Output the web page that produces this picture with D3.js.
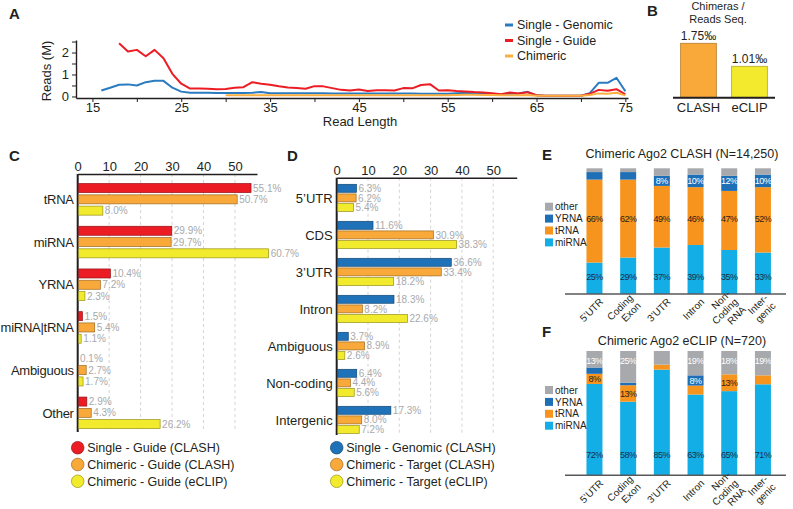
<!DOCTYPE html>
<html><head><meta charset="utf-8">
<script src="https://cdn.jsdelivr.net/npm/d3@7"></script>
<style>
body{margin:0;background:#fff}
svg{display:block;font-family:"Liberation Sans",Arial,sans-serif}
</style>
</head><body>
<svg id="c" width="793" height="509"></svg>
<script>
// ---------------- DATA ----------------
// Panel A: reads (M) by read length
const readLengths = [16,17,18,19,20,21,22,23,24,25,26,27,28,29,30,31,32,33,34,35,36,37,38,39,40,41,42,43,44,45,46,47,48,49,50,51,52,53,54,55,56,57,58,59,60,61,62,63,64,65,66,67,68,69,70,71,72,73,74,75];
const singleGenomic = [0.27,0.40,0.53,0.55,0.50,0.65,0.72,0.71,0.40,0.22,0.17,0.17,0.17,0.16,0.16,0.16,0.16,0.17,0.20,0.15,0.15,0.15,0.15,0.15,0.15,0.15,0.14,0.14,0.14,0.14,0.13,0.13,0.13,0.13,0.13,0.13,0.12,0.12,0.12,0.12,0.15,0.17,0.15,0.12,0.10,0.08,0.12,0.14,0.21,0.05,0.03,0.03,0.03,0.03,0.03,0.15,0.62,0.62,0.85,0.24];
const singleGuide = [null,null,2.42,2.05,2.12,1.83,2.12,1.74,1.03,0.58,0.36,0.36,0.35,0.33,0.34,0.40,0.42,0.65,0.58,0.53,0.46,0.41,0.38,0.35,0.47,0.46,0.38,0.30,0.27,0.32,0.25,0.28,0.28,0.27,0.38,0.37,0.52,0.56,0.27,0.28,0.25,0.23,0.20,0.18,0.15,0.10,0.18,0.14,0.19,0.06,0.03,0.03,0.03,0.03,0.03,0.12,0.30,0.26,0.33,0.10];
const chimeric = [null,null,null,null,null,null,null,null,null,null,null,null,null,null,0.05,0.05,0.05,0.05,0.05,0.05,0.05,0.05,0.05,0.05,0.05,0.05,0.05,0.05,0.05,0.05,0.05,0.05,0.05,0.05,0.05,0.05,0.05,0.05,0.05,0.05,0.07,0.08,0.08,0.07,0.07,0.06,0.06,0.06,0.07,0.03,0.03,0.03,0.03,0.03,0.03,0.07,0.14,0.12,0.17,0.05];
const seriesA = ["Single - Genomic","Single - Guide","Chimeric"];
const xTicksA = [15,20,25,30,35,40,45,50,55,60,65,70,75];

// Panel B
const libsB = ["CLASH","eCLIP"];
const chimeraRatio = [1.75,1.01];

// Panel C
const catsC = ["tRNA","miRNA","YRNA","miRNA|tRNA","Ambiguous","Other"];
const singleGuideCLASH = [55.1,29.9,10.4,1.5,0.1,2.9];
const chimericGuideCLASH = [50.7,29.7,7.2,5.4,2.7,4.3];
const chimericGuideECLIP = [8.0,60.7,2.3,1.1,1.7,26.2];
const seriesC = ["Single - Guide (CLASH)","Chimeric - Guide (CLASH)","Chimeric - Guide (eCLIP)"];

// Panel D
const catsD = ["5\u2019UTR","CDS","3\u2019UTR","Intron","Ambiguous","Non-coding","Intergenic"];
const singleGenomicCLASH = [6.3,11.6,36.6,18.3,3.7,6.4,17.3];
const chimericTargetCLASH = [6.2,30.9,33.4,8.2,8.9,4.4,8.0];
const chimericTargetECLIP = [5.4,38.3,18.2,22.6,2.6,5.6,7.2];
const seriesD = ["Single - Genomic (CLASH)","Chimeric - Target (CLASH)","Chimeric - Target (eCLIP)"];
const barTicks = [0,10,20,30,40,50];

// Panels E / F
const regions = ["5\u2019UTR","Coding Exon","3\u2019UTR","Intron","Non-Coding RNA","Inter-genic"];
const regionLines = [["5\u2019UTR"],["Coding","Exon"],["3\u2019UTR"],["Intron"],["Non-","Coding","RNA"],["Inter-","genic"]];
const guideTypes = ["miRNA","tRNA","YRNA","other"];
const clashMiRNA = [25,29,37,39,35,33];
const clashTRNA  = [66,62,49,46,47,52];
const clashYRNA  = [6,6,8,10,12,10];
const clashOther = [3,3,6,5,6,5];
const eclipMiRNA = [72,58,85,63,65,71];
const eclipTRNA  = [8,13,4,7,13,7];
const eclipYRNA  = [5,2,0,8,0,0];
const eclipOther = [13,25,11,19,18,19];
// which segment values are printed
const clashShow = {miRNA:[1,1,1,1,1,1], tRNA:[1,1,1,1,1,1], YRNA:[0,0,1,1,1,1], other:[0,0,0,0,0,0]};
const eclipShow = {miRNA:[1,1,1,1,1,1], tRNA:[1,1,0,0,1,0], YRNA:[0,0,0,1,0,0], other:[1,1,0,1,1,1]};

// ---------------- DRAW ----------------
const svg = d3.select("#c");
const TXT = "#231f20";

function letter(t,x,y){ svg.append("text").attr("x",x).attr("y",y).attr("font-size",15).attr("font-weight","bold").attr("fill",TXT).text(t); }
letter("A",9,18.5); letter("B",647,15.5); letter("C",9,160.5); letter("D",287,160.5); letter("E",542,160); letter("F",542,337);

// ===== Panel A =====
const colA = ["#2a7bc0","#ec1c24","#fbb040"];
const xA = d3.scaleLinear().domain([13.15,75.3]).range([76,628]);
const yA = d3.scaleLinear().domain([-0.07,2.57]).range([98,40]);
const gA = svg.append("g");
const axY = gA.append("g").attr("transform","translate(76,0)")
  .call(d3.axisLeft(yA).tickValues([0,0.5,1,1.5,2,2.5]).tickFormat(d=>Number.isInteger(d)?d:"").tickSize(4).tickPadding(3).tickSizeOuter(0));
const axX = gA.append("g").attr("transform","translate(0,98)")
  .call(d3.axisBottom(xA).tickValues(xTicksA).tickFormat(d=>(d-15)%10===0?d:"").tickSize(4).tickPadding(1).tickSizeOuter(0));
[axY,axX].forEach(a=>{
  a.selectAll("path.domain").attr("stroke","#231f20").attr("stroke-width",1.4);
  a.selectAll("line").attr("stroke","#231f20");
  a.selectAll("text").attr("font-size",13).attr("fill",TXT).attr("font-family",'"Liberation Sans",Arial,sans-serif');
});
[singleGenomic,singleGuide,chimeric].forEach((vals,k)=>{
  const line = d3.line().defined(d=>d[1]!==null).x(d=>xA(d[0])).y(d=>yA(d[1]));
  gA.append("path").datum(readLengths.map((L,i)=>[L,vals[i]]))
    .attr("d",line).attr("fill","none").attr("stroke",colA[k]).attr("stroke-width",2).attr("stroke-linejoin","round");
});
gA.append("text").attr("transform","translate(51,71) rotate(-90)").attr("text-anchor","middle").attr("font-size",13).attr("fill",TXT).text("Reads (M)");
gA.append("text").attr("x",360).attr("y",126).attr("text-anchor","middle").attr("font-size",13).attr("fill",TXT).text("Read Length");
seriesA.forEach((s,k)=>{
  const y = 25 + k*15.5;
  gA.append("line").attr("x1",505).attr("x2",513).attr("y1",y).attr("y2",y).attr("stroke",colA[k]).attr("stroke-width",3);
  gA.append("text").attr("x",517).attr("y",y).attr("dy","0.35em").attr("font-size",12.5).attr("fill",TXT).text(s);
});

// ===== Panel B =====
const colB = ["#f9a93a","#f3ea2e"];
const xB = d3.scaleBand().domain(libsB).range([673,775]).paddingInner(0.3).paddingOuter(0.15);
const yB = d3.scaleLinear().domain([0,1.75]).range([97.7,43.3]);
const gB = svg.append("g");
gB.selectAll("rect").data(libsB).join("rect")
  .attr("x",d=>xB(d)).attr("width",xB.bandwidth())
  .attr("y",(d,i)=>yB(chimeraRatio[i])).attr("height",(d,i)=>yB(0)-yB(chimeraRatio[i]))
  .attr("fill",(d,i)=>colB[i]).attr("stroke",(d,i)=>d3.color(colB[i]).darker(0.9)).attr("stroke-width",0.8);
gB.append("line").attr("x1",673).attr("x2",775).attr("y1",97.7).attr("y2",97.7).attr("stroke","#231f20").attr("stroke-width",2);
gB.selectAll("text.v").data(libsB).join("text").attr("class","v")
  .attr("x",d=>xB(d)+xB.bandwidth()/2).attr("y",(d,i)=>yB(chimeraRatio[i])-3)
  .attr("text-anchor","middle").attr("font-size",12).attr("fill",TXT).text((d,i)=>d3.format(".2f")(chimeraRatio[i])+"\u2030");
gB.selectAll("text.c").data(libsB).join("text").attr("class","c")
  .attr("x",d=>xB(d)+xB.bandwidth()/2).attr("y",112)
  .attr("text-anchor","middle").attr("font-size",13).attr("fill",TXT).text(d=>d);
gB.append("text").attr("x",718).attr("y",10).attr("text-anchor","middle").attr("font-size",11).attr("fill",TXT).text("Chimeras /");
gB.append("text").attr("x",718).attr("y",22.5).attr("text-anchor","middle").attr("font-size",11).attr("fill",TXT).text("Reads Seq.");

// ===== Horizontal grouped bars (C, D) =====
function hbars(opt){
  const g = svg.append("g");
  const x = d3.scaleLinear().domain([0,opt.xmax]).range([opt.x0,opt.x1]);
  const y = d3.scaleBand().domain(opt.cats).range(opt.yr).paddingInner(opt.pi).paddingOuter(0.13);
  const ys = d3.scaleBand().domain([0,1,2]).range([0,y.bandwidth()]).paddingInner(opt.spi);
  // grid
  g.selectAll("line.grid").data(barTicks.slice(1)).join("line").attr("class","grid")
    .attr("x1",d=>x(d)).attr("x2",d=>x(d)).attr("y1",opt.axisY).attr("y2",opt.yBottom)
    .attr("stroke","#c8c8c8").attr("stroke-width",0.8).attr("stroke-dasharray","3,3");
  const ax = g.append("g").attr("transform",`translate(0,${opt.axisY})`)
    .call(d3.axisTop(x).tickValues(barTicks).tickSize(0).tickPadding(3));
  ax.select("path.domain").attr("stroke","#231f20").attr("stroke-width",1.6);
  ax.selectAll("text").attr("font-size",13).attr("fill",TXT).attr("font-family",'"Liberation Sans",Arial,sans-serif');
  g.append("line").attr("x1",opt.x0).attr("x2",opt.x0).attr("y1",opt.axisY).attr("y2",opt.yBottom).attr("stroke","#231f20").attr("stroke-width",2);
  opt.series.forEach((vals,k)=>{
    g.selectAll(null).data(opt.cats).join("rect")
      .attr("x",opt.x0+1).attr("y",(c)=>y(c)+ys(k))
      .attr("width",(c,i)=>Math.max(0,x(vals[i])-opt.x0-1)).attr("height",ys.bandwidth())
      .attr("fill",opt.colors[k]).attr("stroke",d3.color(opt.colors[k]).darker(1.3)).attr("stroke-width",0.7);
    g.selectAll(null).data(opt.cats).join("text")
      .attr("x",(c,i)=>x(vals[i])+2).attr("y",(c)=>y(c)+ys(k)+ys.bandwidth()/2).attr("dy","0.36em")
      .attr("font-size",10).attr("fill","#a7a9ac").text((c,i)=>d3.format(".1f")(vals[i])+"%");
  });
  g.selectAll("text.cat").data(opt.cats).join("text").attr("class","cat")
    .attr("x",opt.x0-4).attr("y",c=>y(c)+ys(1)+ys.bandwidth()/2).attr("dy","0.36em")
    .attr("text-anchor","end").attr("font-size",13).attr("letter-spacing",opt.ls).attr("fill",TXT).text(c=>c);
  opt.names.forEach((n,k)=>{
    const cy = opt.legY + k*16.8;
    g.append("circle").attr("cx",opt.x0).attr("cy",cy).attr("r",6.3)
      .attr("fill",opt.colors[k]).attr("stroke",d3.color(opt.colors[k]).darker(1.3)).attr("stroke-width",0.7);
    g.append("text").attr("x",opt.x0+9.5).attr("y",cy).attr("dy","0.36em").attr("font-size",12.5).attr("fill",TXT).text(n);
  });
}
hbars({cats:catsC, series:[singleGuideCLASH,chimericGuideCLASH,chimericGuideECLIP], names:seriesC,
  colors:["#ec1c24","#f9a93a","#f2ea2c"], xmax:57, x0:77.7, x1:257, yr:[178,434.2], pi:0.26, spi:0.2,
  axisY:174, yBottom:432, legY:447.7, ls:"-0.25"});
hbars({cats:catsD, series:[singleGenomicCLASH,chimericTargetCLASH,chimericTargetECLIP], names:seriesD,
  colors:["#1f72b8","#f9a93a","#f2ea2c"], xmax:57.5, x0:336.7, x1:516.7, yr:[179.5,438.3], pi:0.265, spi:0.17,
  axisY:177.7, yBottom:435, legY:447.7, ls:"0"});

// ===== Stacked bars (E, F) =====
const colStack = {miRNA:"#13aee6", tRNA:"#f7941d", YRNA:"#1f6fb6", other:"#a7a9ac"};
const labCol = {miRNA:"#1b2f48", tRNA:"#2b2118", YRNA:"#ffffff", other:"#ffffff"};
function stacked(opt){
  const g = svg.append("g");
  const rows = regions.map((r,i)=>({region:r, miRNA:opt.m[i], tRNA:opt.t[i], YRNA:opt.yv[i], other:opt.o[i]}));
  const st = d3.stack().keys(guideTypes).offset(d3.stackOffsetExpand)(rows);
  const x = d3.scaleBand().domain(regions).range([577.7,779.7]).paddingInner(0.525).paddingOuter(0.26);
  const y = d3.scaleLinear().domain([0,1]).range([opt.base,opt.top]);
  st.forEach(s=>{
    g.selectAll(null).data(s).join("rect")
      .attr("x",d=>x(d.data.region)).attr("width",x.bandwidth())
      .attr("y",d=>y(d[1])).attr("height",d=>y(d[0])-y(d[1]))
      .attr("fill",colStack[s.key]);
  });
  g.append("line").attr("x1",565).attr("x2",786).attr("y1",opt.base).attr("y2",opt.base).attr("stroke","#58595b").attr("stroke-width",1.5);
  st.forEach(s=>{
    g.selectAll(null).data(s.filter((d,i)=>opt.show[s.key][i])).join("text")
      .attr("x",d=>x(d.data.region)+x.bandwidth()/2)
      .attr("y",d=>opt.labelY[s.key]!==undefined ? y(opt.labelY[s.key]) : y((d[0]+d[1])/2))
      .attr("dy","0.36em").attr("text-anchor","middle").attr("font-size",9).attr("letter-spacing","-0.5")
      .attr("fill",labCol[s.key]).text(d=>d.data[s.key]+"%");
  });
  g.append("text").attr("x",682).attr("y",opt.titleY).attr("text-anchor","middle").attr("font-size",12.5).attr("fill",TXT).text(opt.title);
  // legend (top to bottom: other, YRNA, tRNA, miRNA)
  guideTypes.slice().reverse().forEach((k,j)=>{
    const cy = opt.legY + j*11.9;
    g.append("rect").attr("x",545).attr("y",cy-4).attr("width",8).attr("height",8).attr("fill",colStack[k]);
    g.append("text").attr("x",555).attr("y",cy).attr("dy","0.36em").attr("font-size",10).attr("fill",TXT).text(k);
  });
  // rotated category labels
  regions.forEach((r,i)=>{
    const lines = regionLines[i];
    const cx = x(r)+x.bandwidth()/2+7, cy = opt.base+6;
    const t = g.append("text").attr("transform",`translate(${cx},${cy}) rotate(-45)`)
      .attr("text-anchor","end").attr("font-size",10).attr("fill",TXT);
    lines.forEach((ln,j)=>{
      t.append("tspan").attr("x",0).attr("y",0).attr("dy",((j-(lines.length-1)/2)*1.1+0.35)+"em").text(ln);
    });
  });
}
stacked({m:clashMiRNA,t:clashTRNA,yv:clashYRNA,o:clashOther,show:clashShow,base:294,top:168.3,
  labelY:{miRNA:0.138,tRNA:0.60,YRNA:0.901}, title:"Chimeric Ago2 CLASH (N=14,250)", titleY:157.5, legY:206.7});
stacked({m:eclipMiRNA,t:eclipTRNA,yv:eclipYRNA,o:eclipOther,show:eclipShow,base:475.3,top:351,
  labelY:{miRNA:0.169,other:0.922}, title:"Chimeric Ago2 eCLIP (N=720)", titleY:344.5, legY:390});
</script>
</body></html>
